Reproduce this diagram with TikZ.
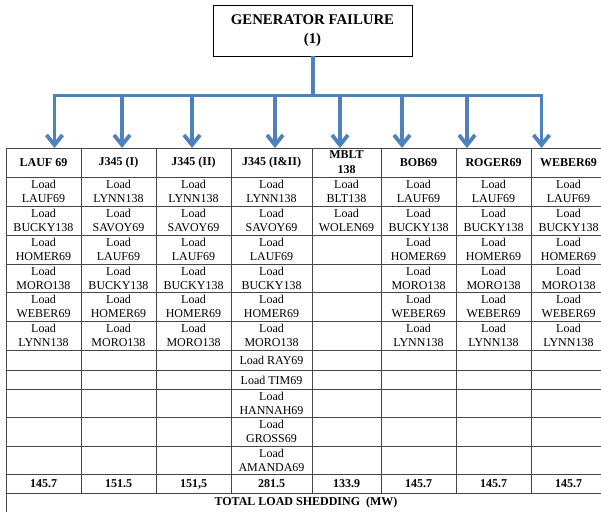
\documentclass[tikz,border=0pt]{standalone}
\usepackage{fontspec}
\setmainfont{Liberation Serif}
\usetikzlibrary{arrows.meta}
\definecolor{busblue}{RGB}{79,129,189}
\definecolor{gridgray}{RGB}{70,70,70}
\begin{document}
\begin{tikzpicture}[x=1pt,y=-1pt,
  bus/.style={draw=busblue,line width=3.8pt},
  feed/.style={bus,-{Straight Barb[length=10pt,width=16pt]}},
  rule/.style={draw=gridgray,line width=0.8pt},
  cell/.style={inner sep=0pt,align=center,font=\fontsize{12}{14.2}\selectfont},
  head/.style={inner sep=0pt,align=center,font=\fontsize{12}{15}\selectfont\bfseries},
  titlebox/.style={draw=black,line width=0.8pt,minimum width=199pt,minimum height=51pt,
    inner sep=0pt,align=center,font=\fontsize{14.8}{19}\selectfont\bfseries}]
\useasboundingbox (0,0) rectangle (601,511);
\clip (0,0) rectangle (601,511);

% top event
\node[titlebox] (gen) at (312.5,30.5) {GENERATOR FAILURE\\(1)};

% table rules
\foreach \yb in {148,177,206,235,264,292,321,350,370,389,417,446,474,493}
  \draw[rule] (6,\yb) -- (608,\yb);
\foreach \xb in {81,156,231,312,381,456,531,606}
  \draw[rule] (\xb,148) -- (\xb,493);
\draw[rule] (6,148) -- (6,520);

% column headers
\foreach \c/\x/\t in {1/43.5/LAUF 69, 2/118.5/J345 (I), 3/193.5/J345 (II),
    4/271.5/J345 (I\&II), 5/346.5/{MBLT\\138}, 6/418.5/BOB69, 7/493.5/ROGER69, 8/568.5/WEBER69}
  \node[head] (head-\c) at (\x,162.5) {\t};

% shed loads, two-line cells
\foreach \c/\x/\names in {
    1/43.5/{LAUF69,BUCKY138,HOMER69,MORO138,WEBER69,LYNN138},
    2/118.5/{LYNN138,SAVOY69,LAUF69,BUCKY138,HOMER69,MORO138},
    3/193.5/{LYNN138,SAVOY69,LAUF69,BUCKY138,HOMER69,MORO138},
    4/271.5/{LYNN138,SAVOY69,LAUF69,BUCKY138,HOMER69,MORO138},
    5/346.5/{BLT138,WOLEN69},
    6/418.5/{LAUF69,BUCKY138,HOMER69,MORO138,WEBER69,LYNN138},
    7/493.5/{LAUF69,BUCKY138,HOMER69,MORO138,WEBER69,LYNN138},
    8/568.5/{LAUF69,BUCKY138,HOMER69,MORO138,WEBER69,LYNN138}}
{
  \foreach \n [count=\r] in \names {
    \pgfmathsetmacro\yy{{191.5,220.5,249.5,278,306.5,335.5}[\r-1]}
    \node[cell] (load-\c-\r) at (\x,\yy) {Load\\\n};
  }
}

% extra loads of the J345 (I&II) case
\node[cell] (load-4-7) at (271.5,360.5) {Load RAY69};
\node[cell] (load-4-8) at (271.5,380) {Load TIM69};
\node[cell] (load-4-9) at (271.5,403) {Load\\HANNAH69};
\node[cell] (load-4-10) at (271.5,431.5) {Load\\GROSS69};
\node[cell] (load-4-11) at (271.5,460) {Load\\AMANDA69};

% totals
\foreach \c/\x/\v in {1/43.5/145.7, 2/118.5/151.5, 3/193.5/{151,5}, 4/271.5/281.5,
    5/346.5/133.9, 6/418.5/145.7, 7/493.5/145.7, 8/568.5/145.7}
  \node[head] (total-\c) at (\x,484) {\v};
\node[head] (totlabel) at (306,503) {TOTAL LOAD SHEDDING \ (MW)};

% feeder bus and arrows
\coordinate (bj) at (313,95.5);
\foreach \i/\ax in {1/54.5,2/122,3/192,4/275,5/340,6/402,7/467,8/541.5}
  \coordinate (tip-\i) at (\ax,148);
\draw[bus] (bj |- gen.south) -- (bj);
\draw[bus,line cap=rect] (tip-1 |- bj) -- (tip-8 |- bj);
\foreach \i in {1,...,8}
  \draw[feed] (tip-\i |- bj) -- (tip-\i);
\end{tikzpicture}
\end{document}
